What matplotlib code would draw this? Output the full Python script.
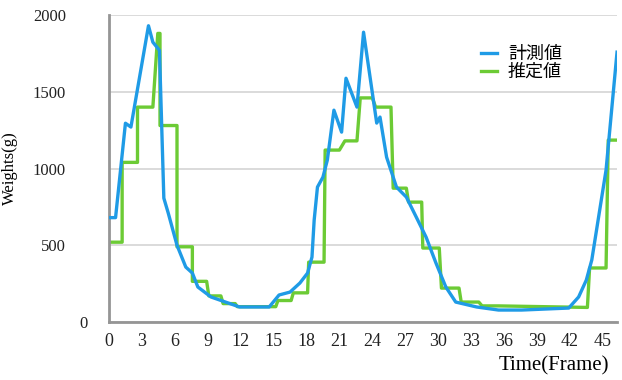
import matplotlib
matplotlib.use("Agg")
import matplotlib.pyplot as plt
import matplotlib.transforms as mtransforms

measured_t = [0, 0.6, 1.5, 2.0, 3.6, 4.0, 4.6, 5.0, 5.4, 6.2, 7.0, 7.6, 8.1, 9.3, 10.1, 11.9,
              14.6, 15.5, 16.5, 17.4, 18.1, 18.5, 18.7, 19.0, 19.5, 19.9, 20.5, 21.2, 21.6,
              22.6, 23.2, 24.4, 24.7, 25.3, 26.2, 27.1, 28.0, 28.9, 29.8, 30.7, 31.6, 33.5,
              35.5, 37.6, 41.9, 42.8, 43.5, 44.0, 45.3, 46.3]
measured_w = [680, 680, 1295, 1270, 1930, 1823, 1770, 807, 710, 500, 358, 319, 228, 163, 143, 98,
              98, 176, 195, 254, 319, 423, 664, 879, 944, 1055, 1380, 1237, 1588,
              1400, 1888, 1296, 1335, 1074, 879, 814, 684, 553, 384, 228, 130, 98,
              78, 78, 91, 163, 273, 404, 990, 1758]

# estimated weights (green), held steps
estimated_t = [0, 1.2, 1.2, 2.6, 2.6, 4.0, 4.45, 4.65, 4.65, 6.2, 6.2, 7.6, 7.6, 8.9, 9.1, 10.2,
               10.4, 11.5, 11.7, 15.2, 15.4, 16.6, 16.8, 18.1, 18.2, 19.6, 19.7, 21.0, 21.5,
               22.6, 22.9, 24.0, 24.3, 25.7, 25.9, 27.1, 27.3, 28.5, 28.6, 30.1, 30.3, 31.9,
               32.1, 33.7, 34.0, 35.5, 43.6, 43.8, 45.3, 45.5, 46.3]
estimated_w = [520, 520, 1040, 1040, 1400, 1400, 1880, 1880, 1280, 1280, 490, 490, 265, 265, 170, 170,
               120, 120, 100, 100, 140, 140, 190, 190, 390, 390, 1120, 1120, 1180,
               1180, 1460, 1460, 1400, 1400, 872, 872, 781, 781, 482, 482, 221, 221,
               130, 130, 105, 105, 95, 352, 352, 1185, 1185]

x_ticks = list(range(0, 46, 3))
y_ticks = [0, 500, 1000, 1500, 2000]

plt.rcParams['font.family'] = ['Liberation Serif', 'Noto Sans CJK JP']

fig = plt.figure(figsize=(6.22, 3.80), dpi=100)
ax = fig.add_axes([0.1752, 0.1526, 0.8168, 0.8079])

ax.plot(measured_t, measured_w, color='#1f9be6', linewidth=2.4, label='計測値', zorder=3)
ax.plot(estimated_t, estimated_w, color='#6ccb35', linewidth=2.4, label='推定値', zorder=2)

ax.set_xlim(0, 46.3)
ax.set_ylim(0, 2000)
ax.set_xticks(x_ticks)
ax.set_yticks(y_ticks)
ax.tick_params(axis='both', length=0, colors='#222222')
ax.tick_params(axis='y', pad=31, labelsize=12)
ax.tick_params(axis='x', pad=8, labelsize=13)

# the "0" label on the y axis sits closer to the axis in the original
for lab in ax.get_yticklabels():
    if lab.get_text() == '0':
        lab.set_transform(lab.get_transform() + mtransforms.ScaledTranslation(22 / 100, 0, fig.dpi_scale_trans))

ax.grid(axis='y', color='#d4d4d4', linewidth=1.2)
ax.set_axisbelow(True)
for side in ['right', 'top']:
    ax.spines[side].set_visible(False)
for side in ['left', 'bottom']:
    ax.spines[side].set_color('#959595')
    ax.spines[side].set_linewidth(2)

ax.set_ylabel('Weights(g)', fontsize=12)
ax.yaxis.set_label_coords(-0.179, 0.5)
ax.set_xlabel('Time(Frame)', fontsize=15, ha='right', va='center')
ax.xaxis.set_label_coords(0.985, -0.142)

leg = ax.legend(loc='upper left', bbox_to_anchor=(0.70, 0.955), frameon=False,
                handlelength=0.9, handletextpad=0.6, labelspacing=0.0,
                prop={'family': ['Noto Sans CJK JP'], 'size': 13})

fig.savefig('out.png', dpi=100)
